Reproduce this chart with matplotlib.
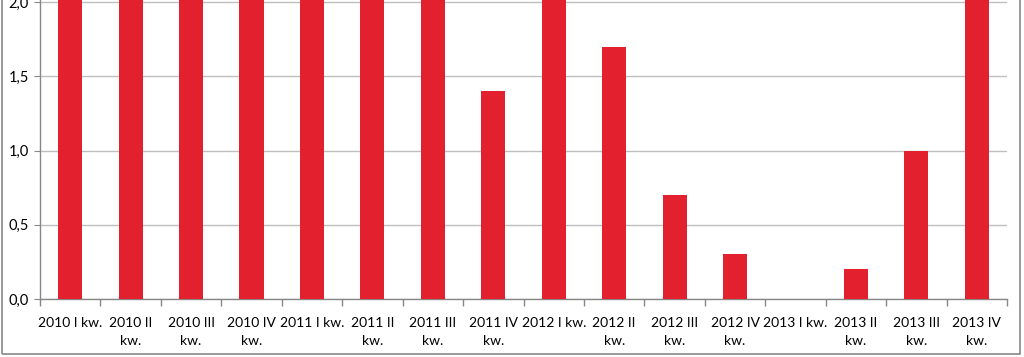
import matplotlib.pyplot as plt
import numpy as np
from matplotlib.patches import Rectangle

# quarters (labels as in the chart, wrapped the same way)
labels = ['2010 I kw.', '2010 II\nkw.', '2010 III\nkw.', '2010 IV\nkw.',
          '2011 I kw.', '2011 II\nkw.', '2011 III\nkw.', '2011 IV\nkw.',
          '2012 I kw.', '2012 II\nkw.', '2012 III\nkw.', '2012 IV\nkw.',
          '2013 I kw.', '2013 II\nkw.', '2013 III\nkw.', '2013 IV\nkw.']
# bars above 2,0 run off the top of the crop, their true height is unknown
values = [2.5, 2.5, 2.5, 2.5, 2.5, 2.5, 2.5, 1.4,
          2.5, 1.7, 0.7, 0.3, 0.0, 0.2, 1.0, 2.5]
yticks = [0.0, 0.5, 1.0, 1.5, 2.0]

plt.rcParams['font.family'] = ['Lato', 'DejaVu Sans']

fig = plt.figure(figsize=(10.24, 3.57), dpi=100)
ax = fig.add_axes([40 / 1024, 58 / 357, 967 / 1024, 299 / 357])

x = np.arange(len(values))
ax.bar(x, values, width=0.4, color='#E3202D', zorder=3)

ax.set_xlim(-0.5, len(values) - 0.5)
ax.set_ylim(0, 2.0 * 299 / 297)
ax.set_yticks(yticks)
ax.set_yticklabels([f'{v:.1f}'.replace('.', ',') for v in yticks], fontsize=10.5)
ax.grid(axis='y', color='#BEBEBE', linewidth=1, zorder=0)

ax.set_xticks(x)
ax.set_xticklabels(labels, fontsize=10, linespacing=1.55, va='top')
ax.tick_params(axis='x', which='major', length=0, pad=13)
ax.set_xticks(np.arange(-0.5, len(values)), minor=True)
ax.tick_params(axis='x', which='minor', length=5, color='#878787', width=1)
ax.tick_params(axis='y', length=4, color='#878787', pad=4)

for side in ('top', 'right'):
    ax.spines[side].set_visible(False)
for side in ('left', 'bottom'):
    ax.spines[side].set_color('#878787')
    ax.spines[side].set_linewidth(1)

# outer chart frame
fig.patches.append(Rectangle((2 / 1024, 3 / 357), 1018 / 1024, 400 / 357,
                             transform=fig.transFigure, fill=False,
                             edgecolor='#878787', linewidth=1.2))

fig.savefig('out.png', dpi=100)
